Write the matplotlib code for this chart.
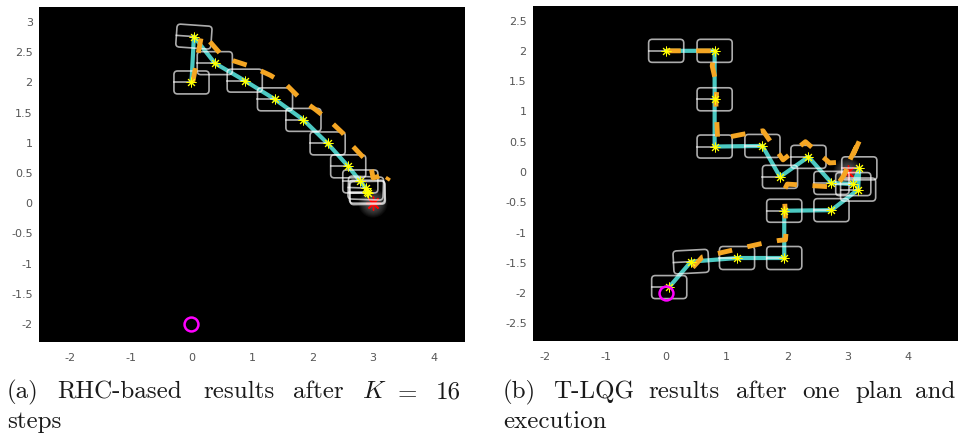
import numpy as np
import matplotlib
matplotlib.use("Agg")
import matplotlib.pyplot as plt
from matplotlib.patches import FancyBboxPatch, Circle
from matplotlib.transforms import Affine2D

plt.rcParams["mathtext.fontset"] = "cm"

# ---- (a) receding-horizon run ----
rhc_x = [0.00, 0.04, 0.385, 0.88, 1.38, 1.85, 2.25, 2.59, 2.79, 2.88, 2.90, 2.91]
rhc_y = [2.00, 2.76, 2.32, 2.03, 1.72, 1.38, 0.99, 0.61, 0.36, 0.25, 0.19, 0.17]
rhc_heading = [0, -4, 0, 0, 0, 0, 0, 0, 0, -2, 0, 1]
rhc_plan_x = [0.02, 0.17, 0.30, 0.50, 0.69, 1.00, 1.30, 1.57, 1.80, 2.05, 2.30,
              2.50, 2.66, 2.82, 2.96, 3.00, 3.08, 3.21, 3.29, 3.23]
rhc_plan_y = [2.00, 2.80, 2.68, 2.45, 2.36, 2.26, 2.12, 1.96, 1.73, 1.55, 1.35,
              1.16, 0.95, 0.78, 0.64, 0.42, 0.44, 0.50, 0.47, 0.38]

# ---- (b) T-LQG run ----
tlqg_x = [0.00, 0.80, 0.80, 0.80, 1.59, 1.88, 2.35, 2.73, 3.09, 3.19, 3.17,
          2.73, 1.95, 1.95, 1.17, 0.41, 0.05]
tlqg_y = [2.00, 2.00, 1.20, 0.42, 0.43, -0.08, 0.25, -0.18, -0.20, 0.06, -0.29,
          -0.63, -0.64, -1.42, -1.42, -1.48, -1.90]
tlqg_heading = [0, 0, 0, 0, 0, 0, 0, 0, 0, 0, 0, 0, 0, 0, 0, 3, 0]
tlqg_plan_x = [0.00, 0.80, 0.76, 0.84, 0.82, 0.85, 1.00, 1.25, 1.60, 1.93, 2.30,
               2.70, 3.02, 3.22, 2.94, 2.80, 2.00, 1.95, 1.98, 1.97, 1.86, 1.58,
               0.83, 0.60, 0.40]
tlqg_plan_y = [2.00, 2.00, 1.75, 1.40, 1.15, 0.55, 0.57, 0.62, 0.68, 0.20, 0.50,
               0.15, 0.17, 0.58, -0.05, -0.25, -0.20, -0.30, -1.00, -1.12, -1.13,
               -1.18, -1.35, -1.40, -1.62]

goal = (3.0, 0.0)
landmark = (0.0, -2.0)

CYAN = "#4CC9C2"
ORANGE = "#F5A623"
BOX_W, BOX_H = 0.58, 0.38

fig = plt.figure(figsize=(9.58, 4.36), dpi=100)
W, H = 958, 436


def px_axes(x0, y0, x1, y1):
    return fig.add_axes([x0 / W, 1 - y1 / H, (x1 - x0) / W, (y1 - y0) / H])


def draw_body(ax, x, y, theta):
    tr = Affine2D().rotate_deg_around(x, y, theta) + ax.transData
    box = FancyBboxPatch((x - BOX_W / 2, y - BOX_H / 2), BOX_W, BOX_H,
                         boxstyle="round,pad=0,rounding_size=0.06",
                         fill=False, ec="white", alpha=0.68, lw=1.2,
                         transform=tr, zorder=3)
    ax.add_patch(box)
    ax.plot([x - BOX_W / 2, x], [y, y], color="white", alpha=0.68, lw=1.2,
            transform=tr, zorder=3)


def draw_panel(ax, xs, ys, heads, px, py, xlim, ylim, yticks):
    ax.set_facecolor("black")
    ax.set_xlim(*xlim)
    ax.set_ylim(*ylim)
    for s in ax.spines.values():
        s.set_visible(False)
    ax.set_xticks([-2, -1, 0, 1, 2, 3, 4])
    ax.set_xticklabels(["-2", "-1", "0", "1", "2", "3", "4"])
    ax.set_yticks(yticks)
    ax.set_yticklabels([("%g" % v) for v in yticks])
    ax.tick_params(length=0, labelsize=8, labelcolor="#555555")
    ax.tick_params(axis="x", pad=8)
    ax.tick_params(axis="y", pad=4.5)

    # soft halo at the goal
    for r in np.linspace(0.24, 0.02, 14):
        ax.add_patch(Circle(goal, r, color="white", alpha=0.04, lw=0, zorder=1))
    ax.plot(*goal, ls="none", marker=(8, 2, 0), ms=10, mec="red", mew=1, zorder=1.5)

    ax.plot(xs, ys, color=CYAN, lw=3, solid_capstyle="round", zorder=2)
    for x, y, t in zip(xs, ys, heads):
        draw_body(ax, x, y, t)
    ax.plot(px, py, color=ORANGE, lw=3.5, dashes=(3.0, 3.2), zorder=4)
    ax.plot(xs, ys, ls="none", marker=(8, 2, 0), ms=7, mec="#FFFF00", mew=0.7, zorder=5)
    ax.plot(*landmark, ls="none", marker="o", ms=10, mfc="none", mec="#FF00FF",
            mew=1.8, zorder=5)


ax_a = px_axes(39, 7, 465, 342)
draw_panel(ax_a, rhc_x, rhc_y, rhc_heading, rhc_plan_x, rhc_plan_y,
           (-2.52, 4.52), (-2.30, 3.25), [-2, -1.5, -1, -0.5, 0, 0.5, 1, 1.5, 2, 2.5, 3])

ax_b = px_axes(533, 6, 958, 341)
draw_panel(ax_b, tlqg_x, tlqg_y, tlqg_heading, tlqg_plan_x, tlqg_plan_y,
           (-2.20, 4.82), (-2.79, 2.74), [-2.5, -2, -1.5, -1, -0.5, 0, 0.5, 1, 1.5, 2, 2.5])


def caption(words, xs, y):
    for w, x in zip(words, xs):
        fig.text(x / W, 1 - y / H, w, family="cmr10", fontsize=18,
                 ha="left", va="baseline", color="#1a1a1a")


caption(["(a)", "RHC-based", "results", "after", "$K$", "$=$", "16"],
        [7, 57, 203, 293, 362, 393, 436], 398)
caption(["steps"], [7], 428)
caption(["(b)", "T-LQG", "results", "after", "one", "plan", "and"],
        [503, 553, 648, 736, 802, 855, 915], 398)
caption(["execution"], [503], 428)

fig.savefig("out.png", dpi=100)
